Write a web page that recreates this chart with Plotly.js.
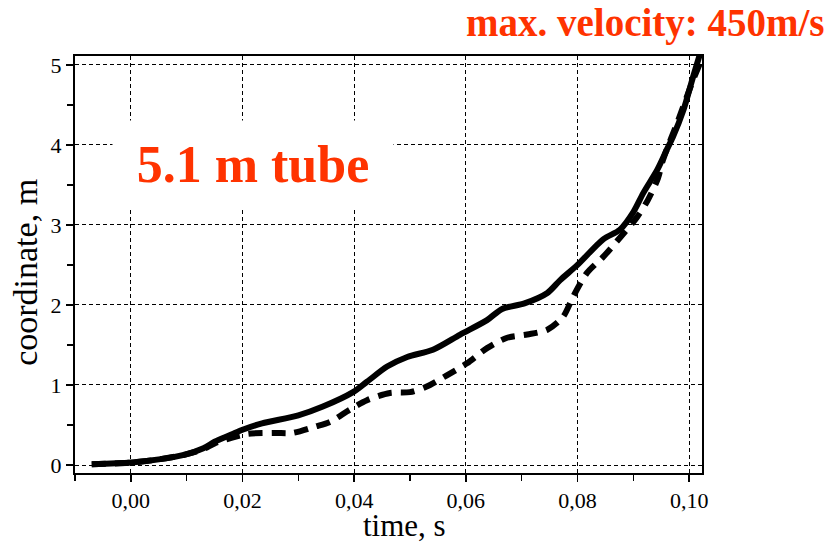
<!DOCTYPE html>
<html>
<head>
<meta charset="utf-8">
<script src="https://cdn.plot.ly/plotly-3.0.1.min.js"></script>
<style>html,body{margin:0;padding:0;background:#fff;}#chart{width:832px;height:544px;}</style>
</head>
<body>
<div id="chart"></div>
<script>
// time, s
var solidTime = [-0.0070, 0.0000, 0.0050, 0.0097, 0.0130, 0.0150, 0.0180, 0.0200, 0.0235, 0.0300, 0.0344, 0.0398, 0.0423, 0.0459, 0.0495, 0.0541, 0.0590, 0.0638, 0.0665, 0.0705, 0.0746, 0.0769, 0.0800, 0.0846, 0.0876, 0.0900, 0.0918, 0.0943, 0.0960, 0.0971, 0.0990, 0.1007, 0.1020];
// coordinate, m
var solidCoord = [0.01, 0.03, 0.07, 0.13, 0.21, 0.29, 0.38, 0.44, 0.52, 0.62, 0.73, 0.91, 1.04, 1.23, 1.35, 1.44, 1.63, 1.81, 1.95, 2.02, 2.15, 2.31, 2.50, 2.82, 2.94, 3.16, 3.40, 3.69, 3.94, 4.10, 4.44, 4.85, 5.15];

var dashTime = [-0.0070, 0.0000, 0.0050, 0.0097, 0.0130, 0.0150, 0.0180, 0.0210, 0.0258, 0.0289, 0.0330, 0.0357, 0.0392, 0.0423, 0.0464, 0.0500, 0.0530, 0.0566, 0.0602, 0.0638, 0.0674, 0.0710, 0.0746, 0.0774, 0.0792, 0.0817, 0.0846, 0.0876, 0.0907, 0.0926, 0.0944, 0.0953, 0.0980, 0.1007, 0.1023];
var dashCoord = [0.01, 0.03, 0.07, 0.13, 0.20, 0.27, 0.34, 0.39, 0.40, 0.40, 0.48, 0.54, 0.69, 0.81, 0.90, 0.91, 0.98, 1.12, 1.27, 1.46, 1.59, 1.63, 1.69, 1.85, 2.10, 2.40, 2.60, 2.84, 3.10, 3.31, 3.58, 3.81, 4.30, 4.81, 5.08];

var xTitle = "time, s";
var yTitle = "coordinate, m";
var mainLabel = "5.1 m tube";
var topLabel = "max. velocity: 450m/s";

var serif = "Liberation Serif";
var red = "#ff3300";

var traces = [
  {x: dashTime, y: dashCoord, mode: "lines", line: {color: "#000", width: 6, dash: "14px,9px", shape: "spline", smoothing: 0.8}, hoverinfo: "skip"},
  {x: solidTime, y: solidCoord, mode: "lines", line: {color: "#000", width: 6, shape: "spline", smoothing: 0.8}, hoverinfo: "skip"}
];

var layout = {
  width: 832, height: 544,
  margin: {l: 75, r: 130, t: 56, b: 71},
  paper_bgcolor: "#fff", plot_bgcolor: "#fff",
  showlegend: false,
  separators: ",.",
  font: {family: serif, color: "#000", size: 22},
  xaxis: {
    range: [-0.0100, 0.1023],
    tick0: 0, dtick: 0.02,
    tickformat: ".2f",
    ticks: "outside", ticklen: 7, tickwidth: 1.5, tickcolor: "#000",
    minor: {dtick: 0.01, ticks: "outside", ticklen: 6, tickwidth: 1.5, tickcolor: "#000", showgrid: false},
    showline: true, linecolor: "#000", linewidth: 2, mirror: true,
    showgrid: true, gridcolor: "#000", gridwidth: 1, griddash: "4px,3px",
    zeroline: false,
    tickfont: {family: serif, size: 22, color: "#000"}
  },
  yaxis: {
    range: [-0.1, 5.11],
    tick0: 0, dtick: 1,
    ticks: "outside", ticklen: 7, tickwidth: 1.5, tickcolor: "#000",
    minor: {dtick: 0.5, ticks: "outside", ticklen: 6, tickwidth: 1.5, tickcolor: "#000", showgrid: false},
    showline: true, linecolor: "#000", linewidth: 2, mirror: true,
    showgrid: true, gridcolor: "#000", gridwidth: 1, griddash: "4px,3px",
    zeroline: false,
    tickfont: {family: serif, size: 22, color: "#000"}
  },
  annotations: [
    {xref: "paper", yref: "paper", x: 0.284, y: 0.741, xanchor: "center", yanchor: "middle",
     text: "<b>" + mainLabel + "</b>", showarrow: false,
     font: {family: serif, size: 52, color: red},
     bgcolor: "#fff", width: 278, height: 84},
    {xref: "paper", yref: "paper", x: 1.2, y: 1.078, xanchor: "right", yanchor: "middle",
     text: "<b>" + topLabel + "</b>", showarrow: false,
     font: {family: serif, size: 39, color: red}},
    {xref: "paper", yref: "paper", x: 0.525, y: -0.172, xanchor: "center", yanchor: "bottom",
     text: xTitle, showarrow: false,
     font: {family: serif, size: 31, color: "#000"}},
    {xref: "paper", yref: "paper", x: -0.08, y: 0.482, xanchor: "center", yanchor: "middle",
     text: yTitle, showarrow: false, textangle: -90,
     font: {family: serif, size: 34, color: "#000"}}
  ]
};

Plotly.newPlot("chart", traces, layout, {displayModeBar: false, staticPlot: true});
</script>
</body>
</html>
